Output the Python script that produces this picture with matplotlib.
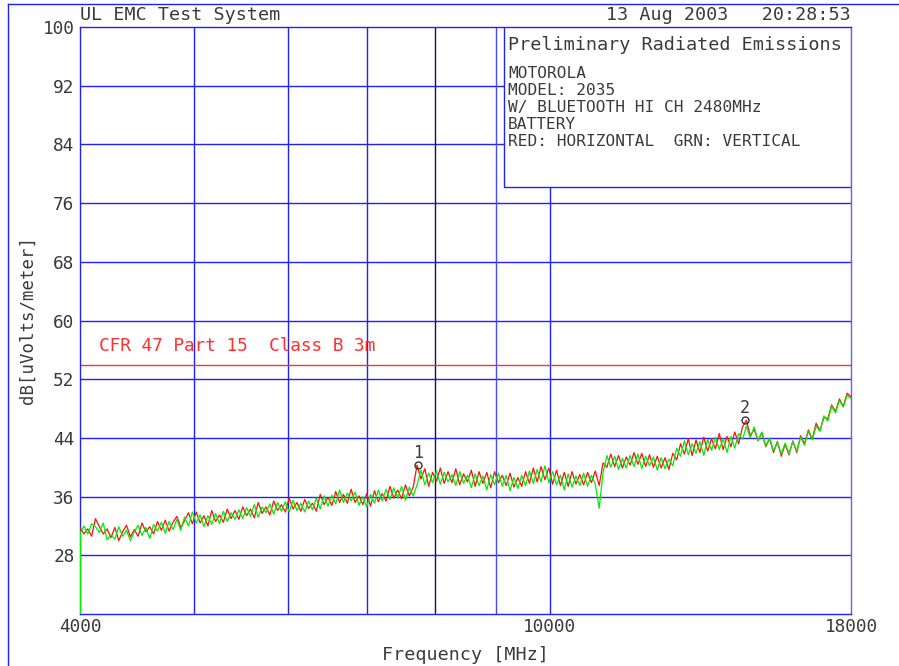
import numpy as np
import matplotlib.pyplot as plt
from matplotlib.lines import Line2D
from matplotlib.patches import Rectangle

plt.rcParams['font.family'] = ['DejaVu Sans Mono', 'DejaVu Sans']

# sweep settings (MHz)
f_start = 4000
f_stop = 18000

green_level = [
    31.0, 32.0, 30.9, 32.3, 31.9, 31.1, 32.4, 30.1, 30.8, 30.2,
    31.9, 30.6, 31.4, 30.0, 31.2, 32.1, 30.7, 31.8, 30.3, 32.2,
    31.3, 32.5, 31.0, 32.6, 31.5, 32.9, 31.4, 33.2, 32.0, 33.9,
    32.4, 33.5, 31.9, 33.4, 32.2, 33.7, 32.3, 34.0, 32.6, 33.8,
    32.9, 34.2, 33.0, 34.5, 33.3, 34.9, 33.2, 34.6, 33.8, 35.0,
    33.6, 35.2, 34.0, 35.3, 33.9, 35.5, 34.1, 35.1, 33.9, 35.4,
    34.2, 35.8, 34.3, 36.1, 34.7, 36.2, 35.0, 36.9, 35.2, 36.5,
    35.4, 36.6, 34.8, 36.0, 34.6, 36.3, 35.1, 36.9, 35.4, 37.0,
    35.6, 37.2, 35.8, 37.4, 35.5, 37.3, 36.1, 37.6, 39.6, 37.6,
    39.2, 37.9, 39.5, 37.7, 39.3, 38.0, 39.0, 37.5, 39.4, 37.8,
    38.9, 37.2, 39.1, 37.5, 38.8, 36.9, 39.0, 37.6, 39.2, 37.4,
    38.9, 36.8, 38.6, 37.1, 38.9, 37.5, 39.5, 37.8, 39.7, 38.0,
    40.2, 37.9, 39.4, 37.6, 38.9, 36.9, 39.1, 37.3, 38.8, 37.5,
    39.2, 37.4, 38.9, 37.7, 34.4, 39.3, 41.6, 40.0, 41.5, 39.7,
    41.2, 39.9, 41.6, 40.1, 41.8, 39.8, 41.5, 40.2, 41.4, 39.6,
    41.3, 39.8, 41.1, 40.2, 42.6, 41.5, 43.6, 41.7, 43.2, 41.9,
    43.5, 41.6, 43.8, 42.3, 44.1, 42.4, 43.9, 42.0, 44.2, 42.6,
    44.6, 43.8, 45.6, 44.0, 45.5, 43.6, 44.8, 42.9, 44.0, 42.2,
    43.4, 41.8, 43.3, 41.9, 43.5, 42.2, 44.1, 43.0, 44.9, 43.7,
    45.6, 44.9, 47.0, 46.3, 48.3, 47.4, 49.1, 48.2, 49.8, 49.4,
]
# RED = horizontal
red_level = [
    31.8, 30.9, 31.6, 30.6, 33.0, 31.9, 30.9, 31.6, 30.4, 31.8,
    30.0, 31.2, 32.1, 30.5, 31.5, 30.6, 32.4, 31.2, 31.9, 30.9,
    32.6, 31.4, 32.8, 31.3, 32.5, 33.3, 31.8, 32.7, 33.8, 32.3,
    33.9, 32.4, 33.4, 32.0, 34.1, 32.6, 33.5, 32.5, 34.3, 33.0,
    34.1, 32.9, 34.6, 33.4, 34.3, 33.1, 35.2, 33.7, 34.6, 33.5,
    35.4, 34.1, 34.9, 33.9, 35.8, 34.3, 35.2, 34.0, 35.6, 34.4,
    35.1, 34.0, 36.3, 34.9, 35.9, 34.8, 36.7, 35.2, 36.3, 35.1,
    37.0, 35.2, 36.1, 34.9, 36.4, 34.7, 36.8, 35.3, 36.4, 35.4,
    37.4, 35.8, 36.9, 35.7, 37.6, 36.1, 37.3, 40.3, 38.4, 39.8,
    37.4, 39.3, 38.1, 39.9, 37.8, 39.4, 37.9, 39.8, 37.6, 39.1,
    38.0, 39.6, 37.4, 39.4, 37.8, 39.3, 37.2, 39.4, 37.9, 38.9,
    37.5, 39.2, 37.3, 38.6, 37.4, 39.4, 37.8, 39.9, 38.0, 40.1,
    38.3, 39.9, 37.7, 39.6, 37.5, 39.3, 37.4, 39.4, 37.7, 39.0,
    37.6, 39.3, 37.9, 39.5, 37.5, 40.6, 40.0, 41.8, 40.1, 41.6,
    39.9, 41.4, 40.3, 42.0, 40.4, 41.9, 40.1, 41.7, 40.0, 41.5,
    39.9, 41.3, 39.7, 41.9, 41.0, 43.2, 41.8, 43.9, 41.6, 43.7,
    42.0, 44.1, 42.2, 43.9, 42.5, 44.6, 42.4, 44.2, 42.8, 44.8,
    43.2, 45.5, 46.4, 44.3, 45.2, 43.6, 44.7, 42.8, 43.9, 42.0,
    43.5, 41.5, 43.1, 41.7, 43.6, 42.0, 44.3, 43.2, 45.1, 43.8,
    46.0, 45.0, 46.8, 46.6, 48.5, 47.6, 49.3, 48.3, 50.1, 49.6,
]
freq = np.geomspace(f_start, f_stop, len(green_level))

limit_level = 54
limit_label = "CFR 47 Part 15  Class B 3m"

marker_freq = [7735, 14640]
marker_level = [40.3, 46.4]
marker_names = ["1", "2"]

grid_freqs = [5000, 6000, 7000, 8000, 9000, 10000]
grid_cols = ['#2020ff', '#2020ff', '#2020ff', '#101060', '#4848ff', '#2020ff']
y_ticks = [28, 36, 44, 52, 60, 68, 76, 84, 92, 100]
x_ticks = [4000, 10000, 18000]

info_lines = ["MOTOROLA", "MODEL: 2035", "W/ BLUETOOTH HI CH 2480MHz",
              "BATTERY", "RED: HORIZONTAL  GRN: VERTICAL"]

W, H = 899, 666
fig = plt.figure(figsize=(W / 100, H / 100), dpi=100)
ax = fig.add_axes([80 / W, 1 - 614 / H, 771 / W, 587 / H])
blue = '#2020ff'
txt = '#3a3a3a'

ax.set_xscale('log')
ax.set_xlim(f_start, f_stop)
ax.set_ylim(20, 100)

# grid
for y in y_ticks[:-1]:
    ax.axhline(y, color=blue, lw=1, zorder=1)
for f, c in zip(grid_freqs, grid_cols):
    ax.axvline(f, color=c, lw=1, zorder=1)

# traces
ax.plot(freq, red_level, color='#ff1010', lw=0.9, zorder=3)
ax.plot(freq, green_level, color='#00ee00', lw=0.9, zorder=4)
ax.vlines(freq[0], 20, green_level[0], color='#00ee00', lw=1.5, zorder=4)

# limit
ax.axhline(limit_level, color='#ff3030', lw=1, zorder=2)
ax.text(4150, limit_level + 2.5, limit_label, color='#ff3030', fontsize=12.8,
        va='center', ha='left')

# markers
ax.plot(marker_freq, marker_level, ls='none', marker='o', ms=5, mfc='none',
        mec='#333333', mew=1, zorder=5)
for f, lv, nm in zip(marker_freq, marker_level, marker_names):
    ax.text(f, lv + 1.7, nm, color=txt, fontsize=12, ha='center', va='center', zorder=5)

# info box
ax.add_patch(Rectangle((0.55, 0.727), 0.45, 0.273, transform=ax.transAxes,
                       facecolor='white', edgecolor=blue, lw=1, zorder=6))
ax.text(0.555, 0.969, "Preliminary Radiated Emissions", transform=ax.transAxes,
        fontsize=13.3, color=txt, va='center', ha='left', zorder=7)
for k, line in enumerate(info_lines):
    ax.text(0.555, 0.9216 - k * 0.029, line, transform=ax.transAxes,
            fontsize=11.6, color=txt, va='center', ha='left', zorder=7)

# axes styling
ax.set_yticks(y_ticks)
ax.set_yticklabels([str(v) for v in y_ticks])
ax.set_xticks(x_ticks)
ax.set_xticklabels([str(v) for v in x_ticks])
ax.xaxis.set_minor_locator(plt.NullLocator())
ax.tick_params(length=0, labelsize=12.8, labelcolor=txt)
ax.tick_params(axis='y', pad=4)
ax.tick_params(axis='x', pad=3)
for s in ax.spines.values():
    s.set_color(blue)
    s.set_linewidth(1)
ax.spines['right'].set_color('#6060ff')

ax.set_xlabel("Frequency [MHz]", fontsize=13.2, color=txt, labelpad=7)
ax.set_ylabel("dB[uVolts/meter]", fontsize=12.5, color=txt, labelpad=4)

# header
fig.text(80 / W, 1 - 15 / H, "UL EMC Test System", fontsize=13.2,
         color=txt, va='center', ha='left')
fig.text(851 / W, 1 - 15 / H, "13 Aug 2003   20:28:53", fontsize=13.2,
         color=txt, va='center', ha='right')

# outer page frame
fig.add_artist(Line2D([8 / W, 1], [1 - 4 / H, 1 - 4 / H], color=blue, lw=1))
fig.add_artist(Line2D([8 / W, 8 / W], [0, 1 - 4 / H], color=blue, lw=1))

fig.savefig("out.png", dpi=100)
